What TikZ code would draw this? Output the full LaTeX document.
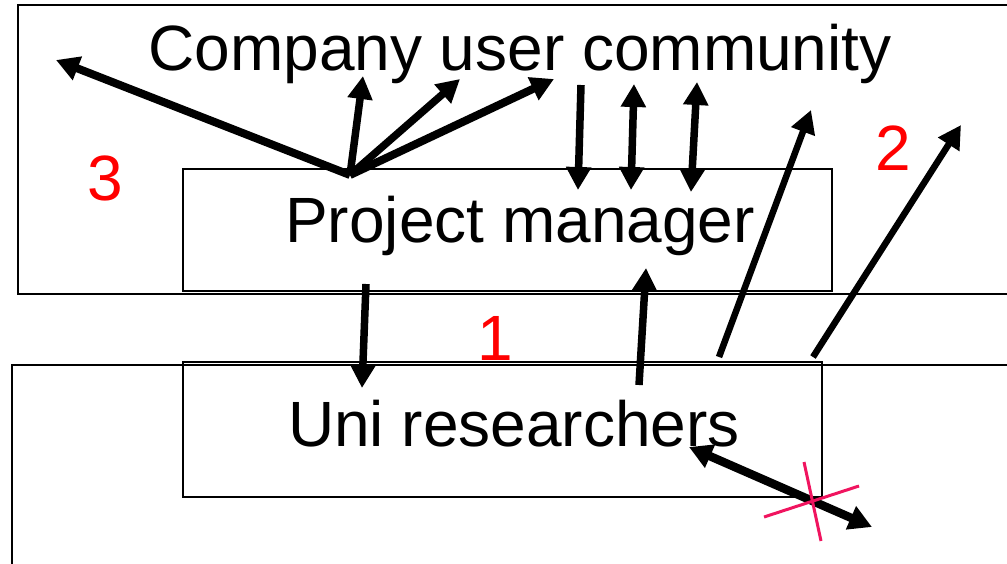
\documentclass[tikz,border=0pt]{standalone}
\usepackage{fontspec}
\setmainfont{Liberation Sans}
\usetikzlibrary{arrows.meta}
\definecolor{xpink}{RGB}{240,20,95}
\begin{document}
\begin{tikzpicture}[x=1pt,y=-1pt,
  frame/.style={draw,line width=1.5pt,rectangle,inner sep=0pt},
  big/.style={font=\fontsize{64}{70}\selectfont,anchor=base,inner sep=0pt},
  num/.style={big,text=red},
  conn/.style={line width=7.5pt,-{Triangle[length=23pt,width=24pt]}},
  dconn/.style={line width=7.5pt,{Triangle[length=23pt,width=24pt]}-{Triangle[length=23pt,width=24pt]}},
  cross/.style={draw=xpink,line width=3pt}]
\useasboundingbox (0,0) rectangle (1007,563);
\clip (0,0) rectangle (1007,563);
% outer boxes
\node[frame,minimum width=1040pt,minimum height=289pt] (company) at (538,149.5) {};
\node[frame,minimum width=1040pt,minimum height=240pt] (uni) at (532,485) {};
% inner boxes
\node[frame,minimum width=649pt,minimum height=122pt] (pm) at (507.5,230) {};
\node[frame,minimum width=639pt,minimum height=135pt] (ur) at (502.5,429.5) {};
% texts
\node[big] (tc) at (520,70) {Company user community};
\node[big] (tp) at (520,242) {Project manager};
\node[big] (tu) at (514,446) {Uni researchers};
\node[num] (n3) at (105,200) {3};
\node[num] (n2) at (893,170) {2};
\node[num] (n1) at (495,360) {1};
% coordinates
\coordinate (f) at (350,175);
\coordinate (f1) at (56,60);
\coordinate (f2) at (363,76);
\coordinate (f3) at (460,79);
\coordinate (f4) at (554,79);
\coordinate (v1a) at (581,85);
\coordinate (v1b) at (578,190);
\coordinate (v2a) at (634,84);
\coordinate (v2b) at (631,190);
\coordinate (v3a) at (697,82);
\coordinate (v3b) at (691,192);
\coordinate (l1a) at (719,357);
\coordinate (l1b) at (811,110);
\coordinate (l2a) at (813,357);
\coordinate (l2b) at (961,125);
\coordinate (d1a) at (366,284);
\coordinate (d1b) at (362,388);
\coordinate (u1a) at (639,385);
\coordinate (u1b) at (646,268);
\coordinate (ba) at (689,447);
\coordinate (bb) at (872,527);
\coordinate (xa1) at (804,462);
\coordinate (xa2) at (821,541);
\coordinate (xb1) at (764,517);
\coordinate (xb2) at (859,486);
% fan arrows
\draw[conn,line width=8pt] (f) -- (f1);
\draw[conn] (f) -- (f2);
\draw[conn] (f) -- (f3);
\draw[conn,line width=8pt] (f) -- (f4);
% verticals
\draw[conn] (v1a) -- (v1b);
\draw[dconn] (v2a) -- (v2b);
\draw[dconn] (v3a) -- (v3b);
% long diagonals
\draw[conn,line width=6.5pt] (l1a) -- (l1b);
\draw[conn,line width=6.5pt] (l2a) -- (l2b);
% between boxes
\draw[conn] (d1a) -- (d1b);
\draw[conn] (u1a) -- (u1b);
% crossed double arrow
\draw[dconn,line width=8.5pt] (ba) -- (bb);
\draw[cross] (xa1) -- (xa2);
\draw[cross] (xb1) -- (xb2);
\end{tikzpicture}
\end{document}
